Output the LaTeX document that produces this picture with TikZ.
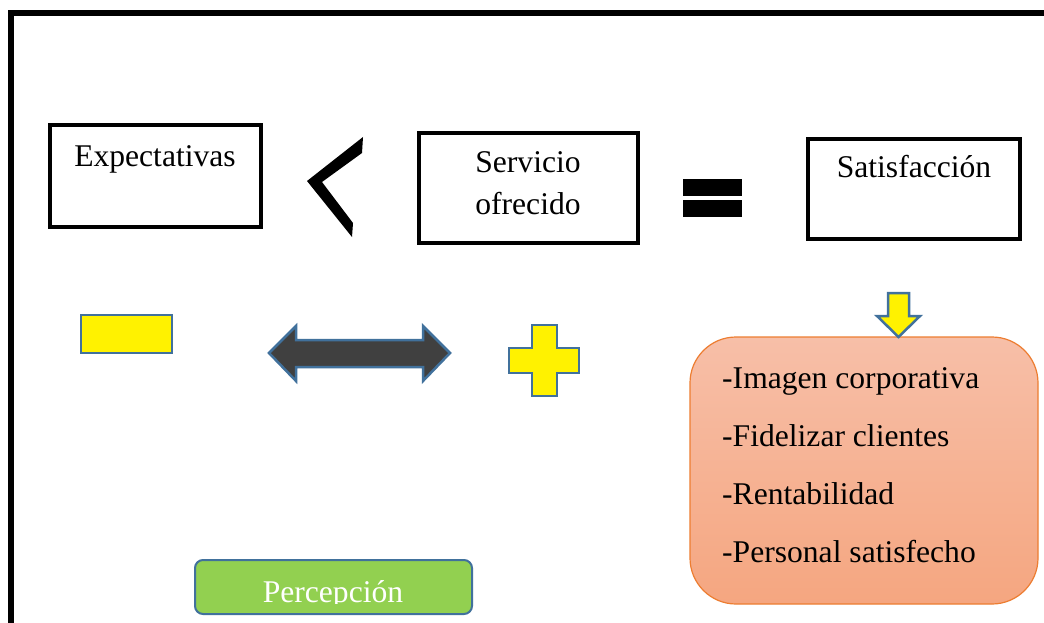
\documentclass[tikz,border=0pt]{standalone}
\usepackage{fontspec}
\setmainfont{Liberation Serif}
\definecolor{shapeblue}{HTML}{41719C}
\definecolor{darkfill}{HTML}{404040}
\definecolor{greenfill}{HTML}{92D050}
\definecolor{orangeline}{HTML}{ED7D31}
\definecolor{orangetop}{HTML}{F7BFA8}
\definecolor{orangebot}{HTML}{F5A680}
\tikzset{
  bigtext/.style={font=\fontsize{31.6}{37}\selectfont, inner sep=0pt, anchor=base},
  termbox/.style={draw=black, line width=4pt, fill=white},
  symshape/.style={draw=shapeblue, line width=2.5pt, line join=miter},
}
\begin{document}
\begin{tikzpicture}[x=1pt,y=-1pt]
\useasboundingbox (0,0) rectangle (1044,623);
\clip (0,0) rectangle (1044,623);
\fill[white] (0,0) rectangle (1044,623);
% frame
\draw[line width=6pt] (10.5,700) -- (10.5,13) -- (1100,13);
% boxes
\draw[termbox] (50,125) rectangle (261,227);
\node[bigtext] (expect) at (155,166) {Expectativas};
\draw[termbox] (419,133) rectangle (638,243);
\node[bigtext] (serv1) at (528,172) {Servicio};
\node[bigtext] (serv2) at (528,214) {ofrecido};
\draw[termbox] (808,139) rectangle (1020,239);
\node[bigtext] (satis) at (914,178) {Satisfacción};
% less-than sign
\fill[black] (363,137) -- (362,153) -- (322,182) -- (353,223) -- (352,237) -- (307,181) -- cycle;
% equals sign
\fill[black] (683,179) rectangle (742,196);
\fill[black] (683,200) rectangle (742,217);
% minus
\draw[symshape, fill=yellow] (81,315) rectangle (172,353);
% double arrow
\draw[symshape, fill=darkfill] (269,353) -- (296,326) -- (296,340) -- (423,340) -- (423,326) -- (450,353) -- (423,381) -- (423,367) -- (296,367) -- (296,381) -- cycle;
% plus
\draw[symshape, fill=yellow] (532,325) -- (557,325) -- (557,348) -- (579,348) -- (579,373) -- (557,373) -- (557,396) -- (532,396) -- (532,373) -- (509,373) -- (509,348) -- (532,348) -- cycle;
% orange box
\shade[top color=orangetop, bottom color=orangebot, rounded corners=46pt] (690,337) rectangle (1038,604);
\draw[orangeline, line width=1.2pt, rounded corners=46pt] (690,337) rectangle (1038,604);
% down arrow
\draw[symshape, fill=yellow] (888,293) -- (909,293) -- (909,316) -- (920,316) -- (898.5,337) -- (877,316) -- (888,316) -- cycle;
\node[bigtext, anchor=base west] (l1) at (722,388) {-Imagen corporativa};
\node[bigtext, anchor=base west] (l2) at (722,446) {-Fidelizar clientes};
\node[bigtext, anchor=base west] (l3) at (722,504) {-Rentabilidad};
\node[bigtext, anchor=base west] (l4) at (722,562) {-Personal satisfecho};
% percepcion
\draw[shapeblue, fill=greenfill, line width=2pt, rounded corners=8pt] (195,560) rectangle (472,614);
\begin{scope}
\clip (195,560) rectangle (472,603.5);
\node[bigtext, text=white] (perc) at (333,602) {Percepción};
\end{scope}
\end{tikzpicture}
\end{document}
